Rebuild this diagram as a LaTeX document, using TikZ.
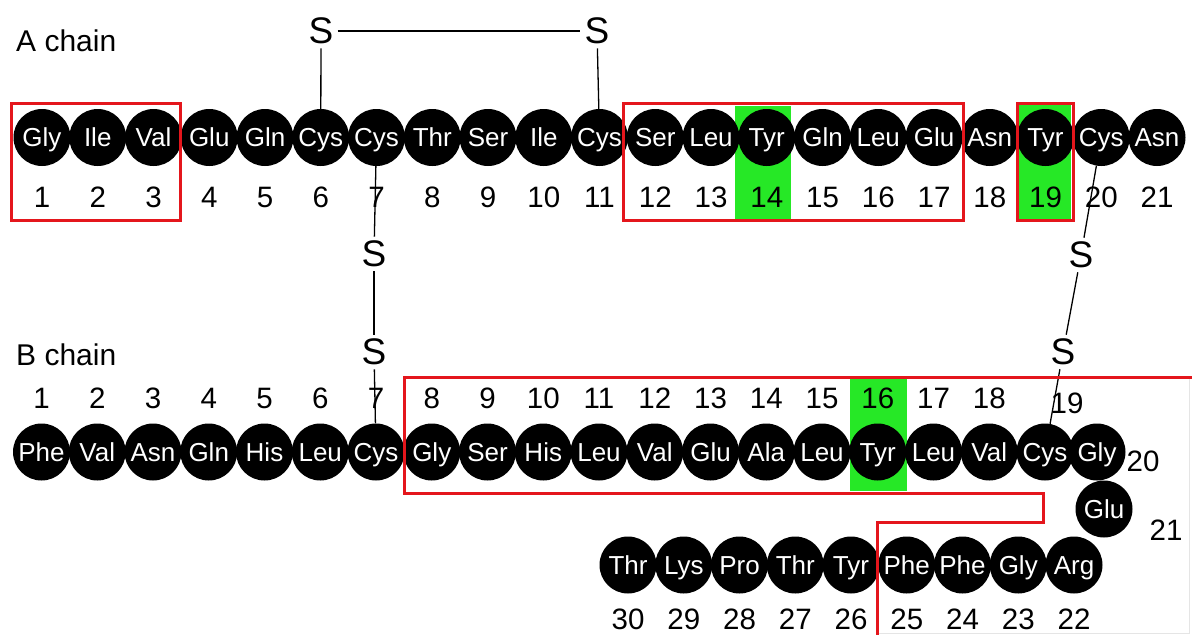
\documentclass[tikz,border=0pt]{standalone}
\usepackage{fontspec}
\setmainfont{Liberation Sans}
\definecolor{boxred}{RGB}{228,22,28}
\definecolor{hlgreen}{RGB}{38,232,38}
\tikzset{
  res/.style={circle, fill=black, text=white, minimum size=57pt, inner sep=0pt,
    text height=18.5pt, text depth=0pt, font=\fontsize{26}{26}\selectfont},
  num/.style={inner sep=0pt, font=\fontsize{29.5}{29.5}\selectfont},
  sulf/.style={inner sep=4pt, font=\fontsize{37}{37}\selectfont},
  lbl/.style={anchor=west, inner sep=0pt, font=\fontsize{30}{30}\selectfont},
  redbox/.style={draw=boxred, line width=3pt},
  hl/.style={fill=hlgreen},
  bond/.style={draw=black, line width=1.3pt},
  faint/.style={draw=black!10, line width=0.8pt}
}
\begin{document}
\begin{tikzpicture}[x=1pt, y=-1pt]
\useasboundingbox (0,0) rectangle (1192,635);
% green highlights
\fill[hl] (735,106) rectangle (791,220);
\fill[hl] (1019,104) rectangle (1071,219);
\fill[hl] (850,379) rectangle (907,491);
% chain labels
\node[lbl] (alabel) at (16,41) {A chain};
\node[lbl] (blabel) at (16,355) {B chain};
% A chain
\foreach \n [count=\i] in {Gly,Ile,Val,Glu,Gln,Cys,Cys,Thr,Ser,Ile,Cys,Ser,Leu,Tyr,Gln,Leu,Glu,Asn,Tyr,Cys,Asn}{
  \node[res] (a\i) at ({42+(\i-1)*55.75},137.5) {\n};
  \node[num] (na\i) at ({42+(\i-1)*55.75},197) {\i};
}
% B chain 1-19
\foreach \n [count=\i] in {Phe,Val,Asn,Gln,His,Leu,Cys,Gly,Ser,His,Leu,Val,Glu,Ala,Leu,Tyr,Leu,Val,Cys}{
  \node[res] (b\i) at ({41.5+(\i-1)*55.75},452) {\n};
}
\foreach \i in {1,...,18}{
  \node[num] (nb\i) at ({41.5+(\i-1)*55.75},398) {\i};
}
\node[num] (nb19) at (1067,403) {19};
\node[res] (b20) at (1097,452) {Gly};
\node[num] (nb20) at (1143,461) {20};
\node[res] (b21) at (1104,509) {Glu};
\node[num] (nb21) at (1166,530) {21};
\foreach \n [count=\k] in {Arg,Gly,Phe,Phe,Tyr,Thr,Pro,Lys,Thr}{
  \pgfmathtruncatemacro{\i}{\k+21}
  \node[res] (b\i) at ({1074-(\k-1)*55.75},565) {\n};
  \node[num] (nb\i) at ({1074-(\k-1)*55.75},619) {\i};
}
% sulfur atoms
\node[sulf] (sA6) at (321,31) {S};
\node[sulf] (sA11) at (597,31) {S};
\node[sulf] (sA7) at (374,254) {S};
\node[sulf] (sB7) at (374,352) {S};
\node[sulf] (sA20) at (1081,255) {S};
\node[sulf] (sB19) at (1063,352) {S};
% disulfide bonds
\draw[bond] (sA6) -- (sA11);
\draw[bond] (sA6) -- (a6);
\draw[bond] (sA11) -- (a11);
\draw[bond] (a7) -- (sA7);
\draw[bond] (sA7) -- (sB7);
\draw[bond] (sB7) -- (b7);
\draw[bond] (a20) -- (sA20);
\draw[bond] (sA20) -- (sB19);
\draw[bond] (sB19) -- (b19);
% red boxes
\draw[redbox] (11,103) rectangle (180,220);
\draw[redbox] (623,103) rectangle (963,220);
\draw[redbox] (1017,103) rectangle (1073,220);
\draw[faint] (1189,379) -- (1189,633) -- (879,633);
\draw[redbox] (1192,377) -- (404,377) -- (404,493) -- (1043,493) -- (1043,522) -- (877,522) -- (877,635);
\end{tikzpicture}
\end{document}
